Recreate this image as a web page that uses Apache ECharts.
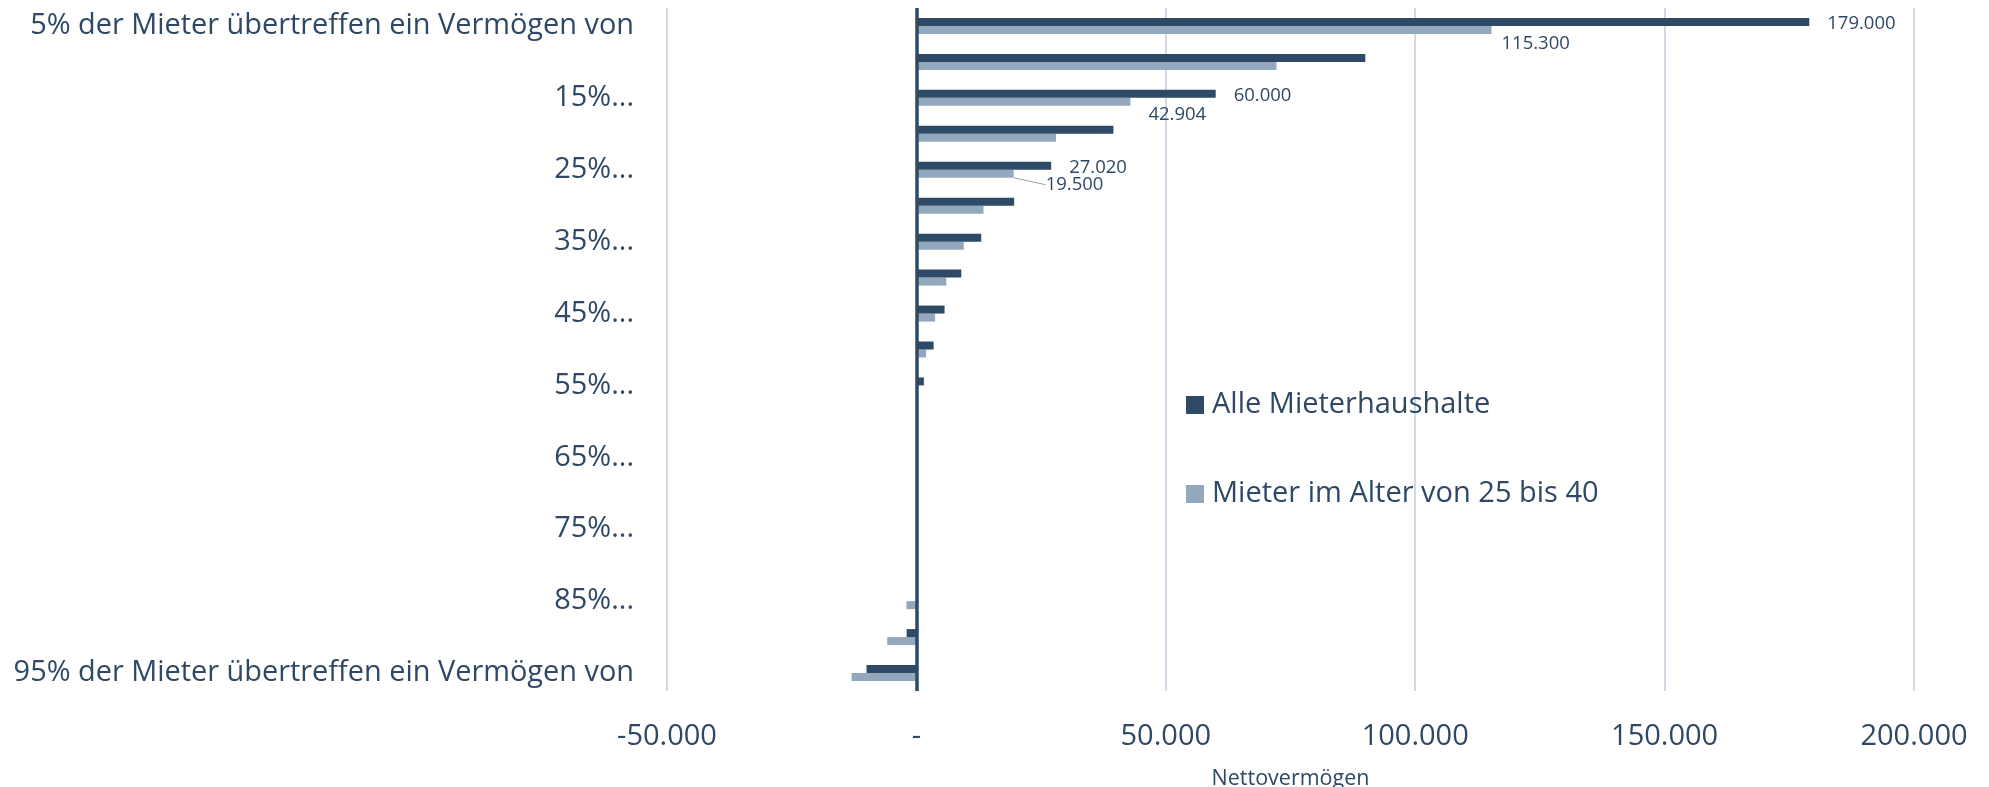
<!DOCTYPE html>
<html>
<head>
<meta charset="utf-8">
<script src="https://cdn.jsdelivr.net/npm/echarts@6/dist/echarts.min.js"></script>
<style>
html,body{margin:0;padding:0;background:#fff;}
#chart{width:1989px;height:787px;}
</style>
</head>
<body>
<div id="chart"></div>
<script>
const categories = [
  '5% der Mieter übertreffen ein Vermögen von',
  '10%...', '15%...', '20%...', '25%...', '30%...', '35%...', '40%...', '45%...',
  '50%...', '55%...', '60%...', '65%...', '70%...', '75%...', '80%...', '85%...', '90%...',
  '95% der Mieter übertreffen ein Vermögen von'
];
const seriesNames = ['Alle Mieterhaushalte', 'Mieter im Alter von 25 bis 40'];
const alleMieter = [179000, 90000, 60000, 39500, 27020, 19600, 13000, 9000, 5650, 3450, 1500, 0, 0, 0, 0, 0, 0, -1950, -10000];
const mieter25bis40 = [115300, 72200, 42904, 28000, 19500, 13450, 9500, 6000, 3750, 1950, 0, 0, 0, 0, 0, 0, -2000, -5850, -13000];
const labeledIndices = [0, 2, 4];
const xTicks = { min: -50000, max: 200000, interval: 50000 };

const DARK = '#2F4A66';
const LIGHT = '#93A8BD';
const TEXT = '#2E4865';
const FONT = 'Open Sans';

function fmt(v) {
  if (v === 0) return '-';
  const s = Math.abs(Math.round(v)).toString().replace(/\B(?=(\d{3})+(?!\d))/g, '.');
  return (v < 0 ? '-' : '') + s;
}

function buildData(values, withLine) {
  return values.map((v, i) => labeledIndices.includes(i)
    ? { value: v, label: { show: true }, labelLine: { show: withLine && i === 4 } }
    : v);
}

const lightLabelShift = { 0: [10, 14], 2: [18, 13], 4: [32, 11] };

const chart = echarts.init(document.getElementById('chart'));
chart.setOption({
  animation: false,
  backgroundColor: '#ffffff',
  grid: { left: 667, right: 75, top: 8, bottom: 96, containLabel: false, outerBoundsMode: 'none' },
  legend: {
    orient: 'vertical',
    left: 1181,
    top: 384,
    itemWidth: 18,
    itemHeight: 18,
    itemGap: 57,
    icon: 'rect',
    data: seriesNames,
    textStyle: { fontFamily: FONT, fontSize: 29, color: TEXT, lineHeight: 32, padding: [0, 0, 0, 3] }
  },
  xAxis: {
    type: 'value',
    min: xTicks.min,
    max: xTicks.max,
    interval: xTicks.interval,
    name: 'Nettovermögen',
    nameLocation: 'middle',
    nameGap: 77,
    nameTextStyle: { fontFamily: FONT, fontSize: 21.5, color: TEXT },
    axisLine: { show: false },
    axisTick: { show: false },
    axisLabel: { fontFamily: FONT, fontSize: 29, color: TEXT, margin: 31, formatter: fmt },
    splitLine: { show: true, lineStyle: { color: '#BFCEDD', width: 1.5 } }
  },
  yAxis: {
    type: 'category',
    data: categories,
    inverse: true,
    axisLine: { show: false },
    axisTick: { show: false },
    splitLine: { show: false },
    axisLabel: { interval: 1, fontFamily: FONT, fontSize: 28.9, color: TEXT, margin: 33 }
  },
  series: [
    {
      name: seriesNames[0],
      type: 'bar',
      data: buildData(alleMieter, false),
      barWidth: 8,
      barGap: '0%',
      itemStyle: { color: DARK },
      label: { show: false, position: 'right', distance: 18, offset: [0, 2], fontFamily: FONT, fontSize: 18.5, color: TEXT, formatter: p => fmt(p.value) },
      markLine: {
        silent: true,
        symbol: 'none',
        label: { show: false },
        lineStyle: { color: DARK, width: 3.5, type: 'solid' },
        data: [{ xAxis: 0 }]
      },
      z: 3
    },
    {
      name: seriesNames[1],
      type: 'bar',
      data: buildData(mieter25bis40, true),
      barWidth: 8,
      barGap: '0%',
      itemStyle: { color: LIGHT },
      label: { show: false, position: 'right', distance: 0, fontFamily: FONT, fontSize: 18.5, color: TEXT, formatter: p => fmt(p.value) },
      labelLine: { show: false, lineStyle: { color: '#A6A6A6', width: 1.2 } },
      labelLayout: function (params) {
        const s = lightLabelShift[params.dataIndex];
        return s ? { dx: s[0], dy: s[1] } : {};
      },
      z: 2
    }
  ]
});
</script>
</body>
</html>
